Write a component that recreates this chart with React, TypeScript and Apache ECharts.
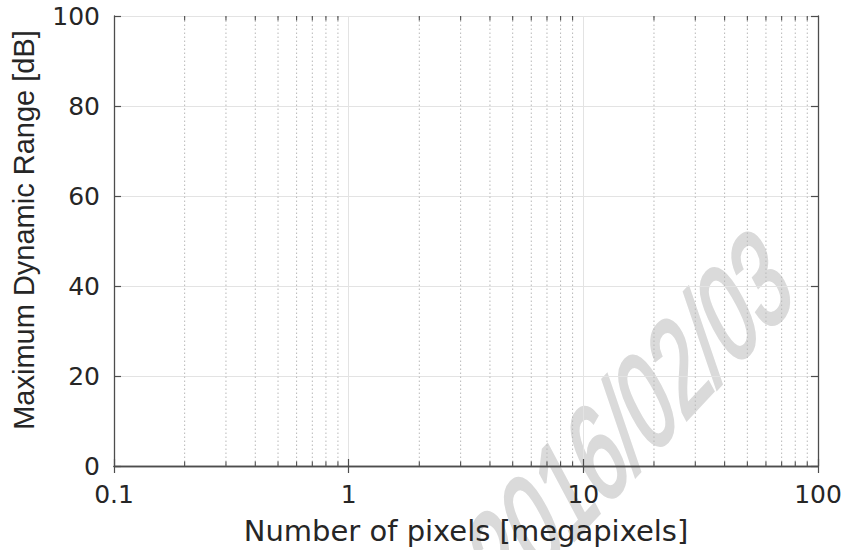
import React, { useEffect, useRef } from "react";
import * as echarts from "echarts";

const xTickValues = [0.1, 1, 10, 100];
const xTickLabels = ["0.1", "1", "10", "100"];
const yTickLabels = ["0", "20", "40", "60", "80", "100"];
const minorX = [
  0.2, 0.3, 0.4, 0.5, 0.6, 0.7, 0.8, 0.9,
  2, 3, 4, 5, 6, 7, 8, 9,
  20, 30, 40, 50, 60, 70, 80, 90,
];
const xAxisTitle = "Number of pixels [megapixels]";
const yAxisTitle = "Maximum Dynamic Range [dB]";
const watermarkText = "2016/02/03";

const AXIS_COLOR = "#4d4d4d";
const TEXT_COLOR = "#262626";

function watermarkTransform(bAngle: number, bLen: number, uAngle: number, uLen: number) {
  const rb = (bAngle * Math.PI) / 180;
  const ru = (uAngle * Math.PI) / 180;
  const px = bLen * Math.cos(rb), py = -bLen * Math.sin(rb);
  const qx = uLen * Math.cos(ru), qy = -uLen * Math.sin(ru);
  const a = px, c = py, b = -qx, d = -qy;
  const E = (a + d) / 2, F = (a - d) / 2, G = (c + b) / 2, H = (c - b) / 2;
  const Q = Math.sqrt(E * E + H * H), R = Math.sqrt(F * F + G * G);
  const sx = Q + R, sy = Q - R;
  const a1 = Math.atan2(G, F), a2 = Math.atan2(H, E);
  const theta = (a2 - a1) / 2, phi = (a2 + a1) / 2;
  return { groupRotation: -phi, scaleX: sx, scaleY: sy, childRotation: -theta };
}

export default function App() {
  const ref = useRef<HTMLDivElement>(null);
  useEffect(() => {
    if (!ref.current) return;
    const chart = echarts.init(ref.current, undefined, { renderer: "svg" });
    const xLabel = (v: number) => {
      const i = xTickValues.findIndex((t) => Math.abs(Math.log10(t) - Math.log10(v)) < 1e-6);
      return i >= 0 ? xTickLabels[i] : "";
    };
    const yLabel = (v: number) => {
      const s = String(Math.round(v));
      return yTickLabels.includes(s) ? s : "";
    };
    const wm = watermarkTransform(47, 1.0, 118, 1.5);
    const option: any = {
      animation: false,
      backgroundColor: "#ffffff",
      grid: { left: 114, right: 37, top: 16, bottom: 80, containLabel: false },
      xAxis: [
        {
          type: "log",
          logBase: 10,
          min: 0.1,
          max: 100,
          position: "bottom",
          name: xAxisTitle,
          nameLocation: "middle",
          nameGap: 50,
          nameTextStyle: { fontFamily: "DejaVu Sans", fontSize: 29, color: TEXT_COLOR },
          axisLine: { show: true, lineStyle: { color: AXIS_COLOR, width: 1.3 } },
          axisTick: { show: true, inside: true, length: 7, lineStyle: { color: AXIS_COLOR, width: 1.2 } },
          axisLabel: {
            margin: 16,
            fontFamily: "DejaVu Sans",
            fontSize: 25,
            color: TEXT_COLOR,
            formatter: xLabel,
          },
          splitLine: { show: true, lineStyle: { color: "#e3e3e3", width: 1 } },
          minorTick: { show: false },
        },
        {
          type: "log",
          logBase: 10,
          min: 0.1,
          max: 100,
          position: "top",
          axisLine: { show: true, lineStyle: { color: AXIS_COLOR, width: 1.3 } },
          axisTick: { show: true, inside: true, length: 7, lineStyle: { color: AXIS_COLOR, width: 1.2 } },
          axisLabel: { show: false },
          splitLine: { show: false },
        },
      ],
      yAxis: [
        {
          type: "value",
          min: 0,
          max: 100,
          interval: 20,
          position: "left",
          name: yAxisTitle,
          nameLocation: "middle",
          nameGap: 76,
          nameTextStyle: {
            fontFamily: "Liberation Sans",
            fontSize: 29,
            color: TEXT_COLOR,
            padding: [0, 0, 0, 22],
          },
          axisLine: { show: true, lineStyle: { color: AXIS_COLOR, width: 1.3 } },
          axisTick: { show: true, inside: true, length: 7, lineStyle: { color: AXIS_COLOR, width: 1.2 } },
          axisLabel: {
            margin: 14,
            fontFamily: "DejaVu Sans",
            fontSize: 25,
            color: TEXT_COLOR,
            formatter: yLabel,
          },
          splitLine: { show: true, lineStyle: { color: "#e3e3e3", width: 1 } },
        },
        {
          type: "value",
          min: 0,
          max: 100,
          interval: 20,
          position: "right",
          axisLine: { show: true, lineStyle: { color: AXIS_COLOR, width: 1.3 } },
          axisTick: { show: true, inside: true, length: 7, lineStyle: { color: AXIS_COLOR, width: 1.2 } },
          axisLabel: { show: false },
          splitLine: { show: false },
        },
      ],
      series: [
        {
          type: "custom",
          xAxisIndex: 0,
          yAxisIndex: 0,
          silent: true,
          z: 1,
          data: minorX.map((v) => [v, 0]),
          renderItem: (params: any, api: any) => {
            const x = api.value(0);
            const b = api.coord([x, 0]);
            const t = api.coord([x, 100]);
            return {
              type: "group",
              children: [
                {
                  type: "line",
                  shape: { x1: b[0], y1: b[1], x2: t[0], y2: t[1] },
                  style: { stroke: "#b8b8b8", lineWidth: 1, lineDash: [1.5, 2.5] },
                },
                {
                  type: "line",
                  shape: { x1: b[0], y1: b[1], x2: b[0], y2: b[1] - 4.5 },
                  style: { stroke: AXIS_COLOR, lineWidth: 1.1 },
                },
                {
                  type: "line",
                  shape: { x1: t[0], y1: t[1], x2: t[0], y2: t[1] + 4.5 },
                  style: { stroke: AXIS_COLOR, lineWidth: 1.1 },
                },
              ],
            };
          },
        },
      ],
      graphic: [
        {
          type: "group",
          x: 630,
          y: 418,
          rotation: wm.groupRotation,
          scaleX: wm.scaleX,
          scaleY: wm.scaleY,
          z: -1,
          silent: true,
          children: [
            {
              type: "text",
              rotation: wm.childRotation,
              z: -1,
              silent: true,
              style: {
                text: watermarkText,
                fontFamily: "Liberation Sans",
                fontSize: 86,
                fill: "#dadada",
                stroke: "#dadada",
                lineWidth: 2.5,
                textAlign: "center",
                textVerticalAlign: "middle",
              },
            },
          ],
        },
      ],
    };
    chart.setOption(option);
    return () => chart.dispose();
  }, []);
  return (
    <div
      ref={ref}
      style={{ position: "absolute", left: 0, top: 0, width: 855, height: 550 }}
    />
  );
}
